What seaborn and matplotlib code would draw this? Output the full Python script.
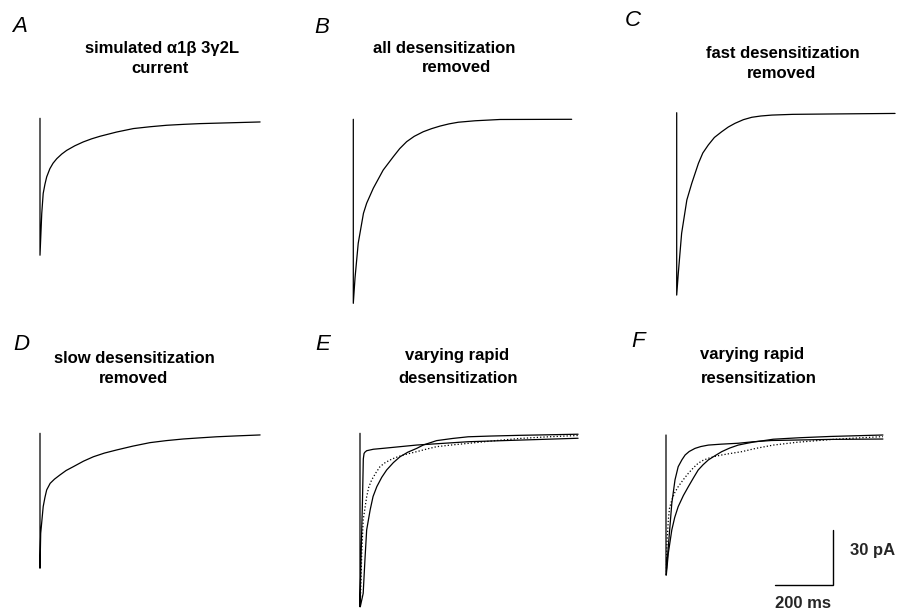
import matplotlib
matplotlib.use("Agg")
import matplotlib.pyplot as plt
import pandas as pd
import seaborn as sns

sns.set_theme(style="white")
plt.rcParams['font.family'] = ['Liberation Sans', 'DejaVu Sans']

# ---------------- data (time in ms, current in pA) ----------------
# A: simulated a1b3g2L current
a_t = [0, 0, 6, 11, 17, 23, 34, 45, 58, 75, 92, 120, 149, 178, 207, 264, 322, 380, 437, 495, 552, 667, 759]
a_i = [0, -74.7, -52, -41, -36, -32, -27.5, -24.5, -22, -19.5, -17.5, -15, -12.9, -11.2, -9.8, -7.5, -5.6, -4.6, -3.8, -3.3, -2.9, -2.4, -2.0]
# B: all desensitization removed
b_t = [0, 0, 6, 17, 35, 46, 69, 103, 138, 160, 184, 210, 241, 270, 299, 330, 362, 420, 506, 753]
b_i = [0, -100.4, -86.4, -67.6, -51.3, -45.8, -37.6, -27.7, -20.4, -16, -12.2, -9.3, -6.8, -5.1, -3.7, -2.5, -1.6, -0.8, -0.1, 0.0]
# C: fast desensitization removed
c_t = [0, 0, 5.5, 17, 35, 52, 75, 90, 109, 130, 155, 178, 201, 230, 259, 290, 328, 400, 529, 753]
c_i = [0, -99.5, -87.6, -65.8, -47.6, -38.5, -27.6, -22, -17.6, -13.5, -10.4, -7.8, -5.8, -3.8, -2.5, -1.8, -1.3, -0.9, -0.7, -0.4]
# D: slow desensitization removed
d_t = [0, 0, 2.4, 11, 17, 23, 35, 50, 69, 90, 115, 150, 184, 222, 264, 320, 379, 435, 494, 550, 609, 680, 759]
d_i = [0, -73.6, -54.6, -40, -35, -30.9, -27.3, -25, -22.7, -20.3, -18.2, -15.2, -12.8, -10.8, -9.1, -7, -5.1, -4, -3.1, -2.5, -1.9, -1.4, -0.9]
# E: varying rapid desensitization
e_fast_t = [0, 0, 3.4, 8.6, 11.4, 14, 17, 23, 46, 80, 196, 373, 552, 752]
e_fast_i = [0, -94.6, -69, -36.4, -14, -11, -10.3, -9.5, -8.7, -8.2, -6.4, -4.6, -3.7, -2.7]
e_slow_t = [1, 11, 17, 23, 35, 45, 58, 75, 92, 115, 138, 165, 196, 218, 264, 320, 373, 450, 552, 752]
e_slow_i = [-94.6, -87.3, -69.1, -52.7, -41.8, -34.5, -29.1, -24, -20, -16, -12.8, -10.3, -8.2, -6.4, -4.0, -2.8, -1.9, -1.5, -1.1, -0.5]
e_mid_t = [1, 6, 11, 23, 30, 40, 55, 69, 85, 103, 120, 138, 165, 196, 230, 264, 320, 373, 460, 552, 650, 752]
e_mid_i = [-94.6, -65.5, -47.3, -34.6, -29.5, -25.5, -21.5, -18.2, -16.2, -14.6, -13.4, -12.4, -11.2, -10.0, -8.6, -7.3, -6.3, -5.5, -4.1, -2.8, -1.9, -1.2]
# F: varying rapid resensitization
f_fast_t = [0, 0, 8, 20, 31, 42, 55, 66, 80, 100, 120, 146, 190, 249, 300, 364, 566, 748]
f_fast_i = [0, -76.4, -60.9, -37.3, -24.5, -17.3, -13.5, -10.9, -9, -7.3, -6.3, -5.5, -5.0, -4.5, -3.7, -3.0, -2.4, -2.2]
f_slow_t = [1, 8, 20, 30, 42, 60, 77, 95, 111, 128, 146, 170, 192, 220, 249, 280, 307, 340, 370, 460, 566, 748]
f_slow_i = [-76.4, -64.5, -51.8, -45, -39.1, -33, -28.2, -23.3, -19.1, -16.2, -13.6, -11.2, -9.1, -7.1, -5.5, -4.5, -3.7, -3, -2.3, -1.5, -0.8, 0.0]
f_mid_t = [1, 3, 8, 12, 20, 30, 42, 60, 77, 95, 111, 128, 146, 168, 192, 225, 261, 310, 370, 450, 566, 650, 748]
f_mid_i = [-76.4, -60, -46.4, -40, -35.5, -31.5, -28.2, -24.3, -20.9, -17.8, -15.4, -13.8, -12.7, -11.7, -10.9, -10, -9.1, -7.3, -5.5, -4, -2.5, -1.7, -0.9]

letters = ["A", "B", "C", "D", "E", "F"]
title_lines = [["simulated \u03b11\u03b2 3\u03b32L", "current"],
               ["all desensitization", "removed"],
               ["fast desensitization", "removed"],
               ["slow desensitization", "removed"],
               ["varying rapid", "desensitization"],
               ["varying rapid", "resensitization"]]
scale_ms = 200
scale_pa = 30

# ---------------- layout (pixels) ----------------
W, H = 900, 612
fig = plt.figure(figsize=(9, 6.12), dpi=100)
SX = 0.29    # px per ms
SY = 1.833   # px per pA
padL, padR, padT, padB = 20, 240, 20, 200

origins = [(40, 118.3), (353.3, 119.3), (676.7, 112.7),
           (40, 433.3), (360, 433.3), (666, 435)]
letter_pos = [(11.7, 31.7), (314, 33.3), (625, 26),
              (13.3, 350), (315, 350), (631.7, 346.7)]
title_pos = [[(162, 53.3), (160.5, 72.7)],
             [(444, 53.3), (456, 71.7)],
             [(782.5, 58.3), (781.7, 78.3)],
             [(134, 363.3), (134, 383.3)],
             [(456.7, 360), (458.3, 383.3)],
             [(752.5, 359.3), (758.5, 383.3)]]

traces = [
    [(a_t, a_i, "-")],
    [(b_t, b_i, "-")],
    [(c_t, c_i, "-")],
    [(d_t, d_i, "-")],
    [(e_fast_t, e_fast_i, "-"), (e_slow_t, e_slow_i, "-"), (e_mid_t, e_mid_i, ":")],
    [(f_fast_t, f_fast_i, "-"), (f_slow_t, f_slow_i, "-"), (f_mid_t, f_mid_i, ":")],
]

axes = []
for k, (x0, y0) in enumerate(origins):
    ax = fig.add_axes([(x0 - padL) / W, 1 - (y0 + padB) / H,
                       (padL + padR) / W, (padT + padB) / H])
    ax.patch.set_alpha(0)
    for (tt, ii, ls) in traces[k]:
        df = pd.DataFrame({"t": tt, "i": ii})
        sns.lineplot(data=df, x="t", y="i", ax=ax, estimator=None, sort=False,
                     color="black", linewidth=0.9, linestyle=ls, legend=False)
    ax.set_xlim(-padL / SX, padR / SX)
    ax.set_ylim(-padB / SY, padT / SY)
    ax.set_axis_off()
    axes.append(ax)

    lx, ly = letter_pos[k]
    fig.text(lx / W, 1 - ly / H, letters[k], fontsize=16, style="italic",
             ha="left", va="baseline", color="black")
    for line, (tx, ty) in zip(title_lines[k], title_pos[k]):
        fig.text(tx / W, 1 - ty / H, line, fontsize=12, fontweight="bold",
                 ha="center", va="baseline", color="black")

# scale bar in panel F
axF = axes[5]
bar_t0 = (775 - origins[5][0]) / SX
bar_i0 = -(585 - origins[5][1]) / SY
axF.plot([bar_t0, bar_t0 + scale_ms, bar_t0 + scale_ms],
         [bar_i0, bar_i0, bar_i0 + scale_pa], color="black", lw=1.0,
         clip_on=False, solid_joinstyle="miter")
fig.text(850 / W, 1 - 555 / H, f"{scale_pa} pA", fontsize=12, fontweight="bold",
         ha="left", va="baseline")
fig.text(803 / W, 1 - 608.3 / H, f"{scale_ms} ms", fontsize=12, fontweight="bold",
         ha="center", va="baseline")

fig.savefig("out.png", dpi=100, facecolor="white")
